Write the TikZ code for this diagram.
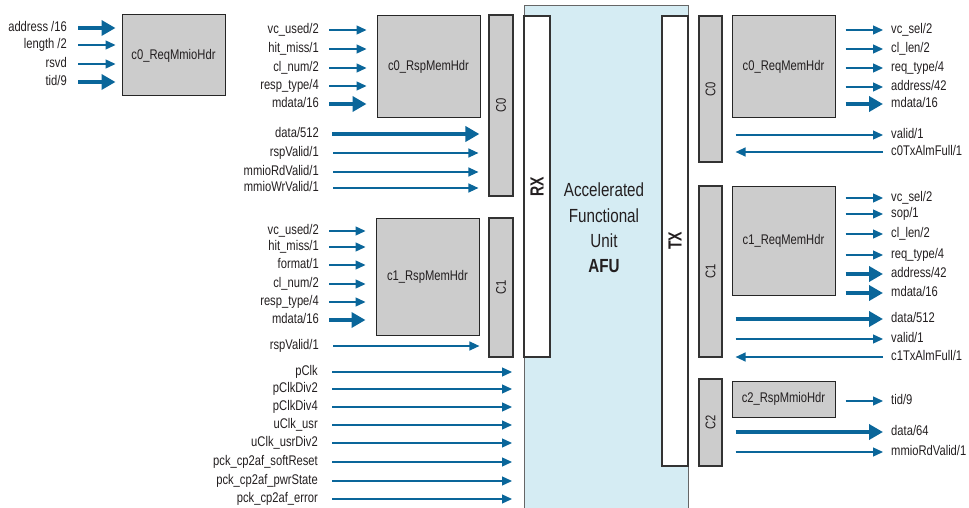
\documentclass[tikz,border=0pt]{standalone}
\usepackage{fontspec}
\setmainfont{Liberation Sans}[FakeStretch=0.8]
\newfontfamily\condbold{Liberation Sans}[FakeStretch=0.74]
\usetikzlibrary{arrows.meta}
\definecolor{sigblue}{RGB}{10,102,154}
\definecolor{afublue}{RGB}{213,236,243}
\definecolor{boxgray}{RGB}{204,204,204}
\definecolor{txtc}{RGB}{35,31,32}
\tikzset{
  lbl/.style={font=\fontsize{14}{16}\selectfont, text=txtc, inner sep=0pt, text height=10pt, text depth=3pt},
  sig/.style={draw=sigblue, line width=1.3pt, -{Triangle[length=10pt,width=9pt]}},
  bus/.style={draw=sigblue, line width=4.5pt, -{Triangle[length=14pt,width=15pt]}},
  hdr/.style={draw=black!85, fill=boxgray, line width=1pt, inner sep=0pt, font=\fontsize{14}{16}\selectfont, text=txtc},
  chbar/.style={draw=black!80, fill=boxgray, line width=1.2pt, inner sep=0pt},
  wbar/.style={draw=black!80, fill=white, line width=1.2pt, inner sep=0pt},
  vlbl/.style={rotate=90, font=\fontsize{14}{16}\selectfont, text=txtc, inner sep=0pt},
  vbold/.style={rotate=90, font=\condbold\fontsize{19}{21}\selectfont\bfseries, text=txtc, inner sep=0pt},
}
% input: name, label x, y, text, style, target node, start gap, end gap
\newcommand\sigin[8]{%
  \node[lbl,anchor=east] (#1) at (#2,#3) {#4};
  \draw[#5] ([xshift=#7pt]#1.east) -- ([xshift=-#8pt]#6.west |- #1.east);}
% output: name, label x, y, text, style, source node, start gap, end gap
\newcommand\sigout[8]{%
  \node[lbl,anchor=west] (#1) at (#2,#3) {#4};
  \draw[#5] ([xshift=#7pt]#6.east |- #1.west) -- ([xshift=-#8pt]#1.west);}
% reverse output (arrow points back to source)
\newcommand\sigback[8]{%
  \node[lbl,anchor=west] (#1) at (#2,#3) {#4};
  \draw[#5] ([xshift=-#8pt]#1.west) -- ([xshift=#7pt]#6.east |- #1.west);}
\begin{document}
\begin{tikzpicture}[x=1pt,y=-1pt]
\useasboundingbox (0,0) rectangle (969,508);

% AFU region
\node[fill=afublue, minimum width=164pt, minimum height=502pt, anchor=north west, inner sep=0pt] (afu) at (524,6) {};
\draw[black!60, line width=1pt] (afu.south west) -- (afu.north west) -- (afu.north east) -- (afu.south east);
\node[wbar, minimum width=26pt, minimum height=341pt] (rx) at (537,186.5) {};
\node[vbold] (rxt) at (rx) {RX};
\node[wbar, minimum width=26pt, minimum height=450pt] (tx) at (675,241) {};
\node[vbold] (txt) at (tx) {TX};
\node[align=center, text=txtc, font=\fontsize{19}{25.3}\selectfont, inner sep=0pt] (afut) at (604,228) {Accelerated\\Functional\\Unit\\\textbf{AFU}};

% left boxes
\node[hdr, minimum width=103pt, minimum height=81pt] (mmio) at (173.5,55.5) {c0\_ReqMmioHdr};
\node[hdr, minimum width=103pt, minimum height=102pt] (rsp0) at (428.5,67) {c0\_RspMemHdr};
\node[hdr, minimum width=103pt, minimum height=117pt] (rsp1) at (427.5,276.5) {c1\_RspMemHdr};
\node[chbar, minimum width=24pt, minimum height=181pt] (lc0) at (501,105.5) {};
\node[vlbl] at (lc0) {C0};
\node[chbar, minimum width=24pt, minimum height=139pt] (lc1) at (501,287.5) {};
\node[vlbl] at (lc1) {C1};

% right boxes
\node[chbar, minimum width=23pt, minimum height=146pt] (rc0) at (710.5,89) {};
\node[vlbl] at (rc0) {C0};
\node[chbar, minimum width=23pt, minimum height=171pt] (rc1) at (710.5,271.5) {};
\node[vlbl] at (rc1) {C1};
\node[chbar, minimum width=23pt, minimum height=87pt] (rc2) at (710.5,422.5) {};
\node[vlbl] at (rc2) {C2};
\node[hdr, minimum width=103pt, minimum height=102pt] (req0) at (783.5,67) {c0\_ReqMemHdr};
\node[hdr, minimum width=103pt, minimum height=109pt] (req1) at (783.5,240.5) {c1\_ReqMemHdr};
\node[hdr, minimum width=103pt, minimum height=36pt] (mmio2) at (783.5,399) {c2\_RspMmioHdr};

% c0_ReqMmioHdr inputs
\sigin{a1}{67}{28}{address /16}{bus}{mmio}{11}{6}
\sigin{a2}{67}{45}{length /2}{sig}{mmio}{11}{6}
\sigin{a3}{67}{64}{rsvd}{sig}{mmio}{11}{6}
\sigin{a4}{67}{82}{tid/9}{bus}{mmio}{11}{6}

% c0_RspMemHdr inputs
\sigin{b1}{319}{30}{vc\_used/2}{sig}{rsp0}{10}{10}
\sigin{b2}{319}{49}{hit\_miss/1}{sig}{rsp0}{10}{10}
\sigin{b3}{319}{68}{cl\_num/2}{sig}{rsp0}{10}{10}
\sigin{b4}{319}{86}{resp\_type/4}{sig}{rsp0}{10}{10}
\sigin{b5}{319}{104}{mdata/16}{bus}{rsp0}{10}{10}
\sigin{b6}{319}{134}{data/512}{bus}{lc0}{13}{9}
\sigin{b7}{319}{153}{rspValid/1}{sig}{lc0}{14}{10}
\sigin{b8}{319}{172}{mmioRdValid/1}{sig}{lc0}{14}{10}
\sigin{b9}{319}{188}{mmioWrValid/1}{sig}{lc0}{14}{10}

% c1_RspMemHdr inputs
\sigin{c1}{319}{231}{vc\_used/2}{sig}{rsp1}{10}{10}
\sigin{c2}{319}{247}{hit\_miss/1}{sig}{rsp1}{10}{10}
\sigin{c3}{319}{265}{format/1}{sig}{rsp1}{10}{10}
\sigin{c4}{319}{284}{cl\_num/2}{sig}{rsp1}{10}{10}
\sigin{c5}{319}{302}{resp\_type/4}{sig}{rsp1}{10}{10}
\sigin{c6}{319}{320}{mdata/16}{bus}{rsp1}{10}{10}
\sigin{c7}{319}{346}{rspValid/1}{sig}{lc1}{14}{9}

% clocks and resets
\sigin{d1}{318}{372}{pClk}{sig}{afu}{14}{12}
\sigin{d2}{318}{389}{pClkDiv2}{sig}{afu}{14}{12}
\sigin{d3}{318}{407}{pClkDiv4}{sig}{afu}{14}{12}
\sigin{d4}{318}{425}{uClk\_usr}{sig}{afu}{14}{12}
\sigin{d5}{318}{443}{uClk\_usrDiv2}{sig}{afu}{14}{12}
\sigin{d6}{318}{462}{pck\_cp2af\_softReset}{sig}{afu}{14}{12}
\sigin{d7}{318}{481}{pck\_cp2af\_pwrState}{sig}{afu}{14}{12}
\sigin{d8}{318}{499}{pck\_cp2af\_error}{sig}{afu}{14}{12}

% c0_ReqMemHdr outputs
\sigout{e1}{891}{30}{vc\_sel/2}{sig}{req0}{10}{8}
\sigout{e2}{891}{49}{cl\_len/2}{sig}{req0}{10}{8}
\sigout{e3}{891}{68}{req\_type/4}{sig}{req0}{10}{8}
\sigout{e4}{891}{87}{address/42}{sig}{req0}{10}{8}
\sigout{e5}{891}{104}{mdata/16}{bus}{req0}{10}{8}
\sigout{e6}{891}{135}{valid/1}{sig}{rc0}{13}{8}
\sigback{e7}{891}{152}{c0TxAlmFull/1}{sig}{rc0}{13}{8}

% c1_ReqMemHdr outputs
\sigout{f1}{891}{198}{vc\_sel/2}{sig}{req1}{10}{8}
\sigout{f2}{891}{214}{sop/1}{sig}{req1}{10}{8}
\sigout{f3}{891}{234}{cl\_len/2}{sig}{req1}{10}{8}
\sigout{f4}{891}{255}{req\_type/4}{sig}{req1}{10}{8}
\sigout{f5}{891}{274}{address/42}{bus}{req1}{10}{8}
\sigout{f6}{891}{293}{mdata/16}{bus}{req1}{10}{8}
\sigout{f7}{891}{319}{data/512}{bus}{rc1}{13}{8}
\sigout{f8}{891}{339}{valid/1}{sig}{rc1}{13}{8}
\sigback{f9}{891}{357}{c1TxAlmFull/1}{sig}{rc1}{13}{8}

% c2 outputs
\sigout{g1}{891}{401}{tid/9}{sig}{mmio2}{10}{8}
\sigout{g2}{891}{432}{data/64}{bus}{rc2}{13}{8}
\sigout{g3}{891}{452}{mmioRdValid/1}{sig}{rc2}{13}{8}
\end{tikzpicture}
\end{document}
